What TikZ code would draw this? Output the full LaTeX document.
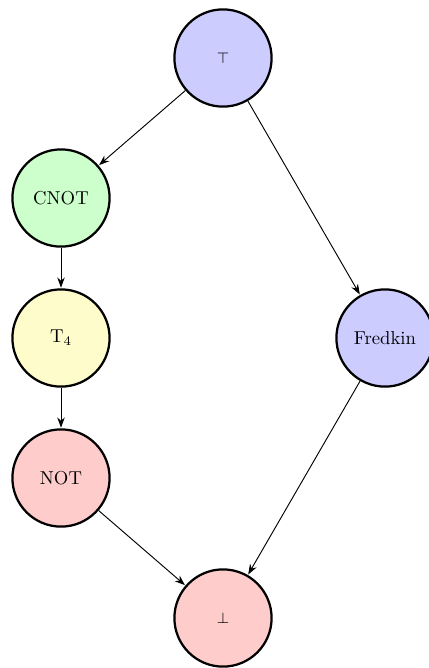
\documentclass[tikz,border=0pt]{standalone}
\usetikzlibrary{arrows.meta}
\begin{document}
\begin{tikzpicture}[x=0.535pt,y=-0.535pt,
  state/.style={circle,draw=black,line width=1.2pt,minimum size=52pt,inner sep=0pt,font=\fontsize{10}{12}\selectfont},
  conn/.style={-{Stealth[length=5.5pt,width=4pt]},line width=0.5pt,shorten >=0.3pt}]
\useasboundingbox (0,0) rectangle (429,668);
\node[state,fill=blue!20] (top) at (223,58) {\footnotesize$\top$};
\node[state,fill=green!20] (cnot) at (61,198) {CNOT};
\node[state,fill=yellow!20] (t4) at (61,338) {T$_4$};
\node[state,fill=red!20] (not) at (61,478) {NOT};
\node[state,fill=red!20] (bot) at (223,618) {\footnotesize$\bot$};
\node[state,fill=blue!20] (fred) at (385,338) {Fredkin};
\draw[conn] (top) -- (cnot);
\draw[conn] (cnot) -- (t4);
\draw[conn] (t4) -- (not);
\draw[conn] (not) -- (bot);
\draw[conn] (top) -- (fred);
\draw[conn] (fred) -- (bot);
\end{tikzpicture}
\end{document}
